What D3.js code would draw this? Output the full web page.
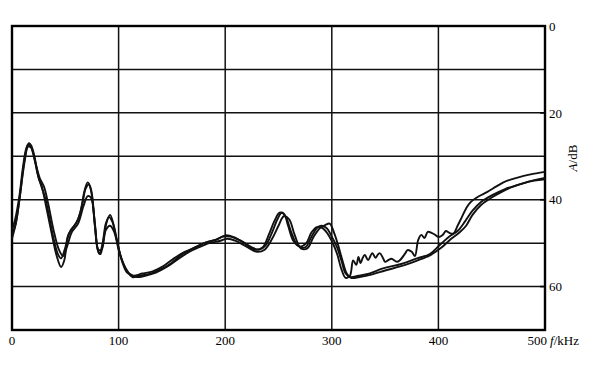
<!DOCTYPE html>
<html>
<head>
<meta charset="utf-8">
<script src="https://cdn.jsdelivr.net/npm/d3@7"></script>
<style>
  body { margin: 0; background: #fff; }
  svg { display: block; font-family: "Liberation Serif", "DejaVu Serif", serif; }
  .grid { stroke: #111; stroke-width: 1.5; }
  .frame { fill: none; stroke: #000; stroke-width: 2.4; }
  .curve { fill: none; stroke: #111; stroke-width: 1.9; stroke-linejoin: round; }
  .lbl { font-size: 13px; fill: #000; }
</style>
</head>
<body>
<div id="chart"></div>
<script>
// frequency f/kHz vs attenuation A/dB, three measurements
var width = 600,
    height = 375;

var xTicks = [0, 100, 200, 300, 400, 500];
var yTicks = [0, 20, 40, 60];
var yGrid = [0, 10, 20, 30, 40, 50, 60, 70];

var curve1 = [[0,48],[3,46],[7,40],[11,32],[14,28],[16,27],[18,27.5],[21,30],[25,35],[28,37],[32,41.5],[37,47.5],[42,53],[46,55.5],[49,54],[52,49],[55,47],[60,45.5],[64,43],[68,38],[71,36],[74,37.5],[77,44],[80,51],[82,52.5],[85,50],[88,45.5],[91,44],[94,45],[98,49],[102,53],[107,56],[113,57.8],[120,57.5],[130,57],[140,56],[150,54.5],[160,52.5],[170,51.2],[180,50],[190,49.3],[198,48.5],[205,48.5],[215,49.5],[225,51],[232,51.5],[238,50.5],[244,47.5],[249,44.5],[253,43],[257,44],[262,47.5],[268,50.5],[275,51],[281,48.5],[286,46.5],[290,46],[295,46.5],[300,48.5],[305,51],[309,54],[313,57],[317,57.8],[325,57.5],[335,57],[348,55.8],[365,54.8],[380,53.5],[392,52.5],[401,50.5],[410,48.5],[418,47.2],[425,45],[432,42.5],[440,40.5],[450,39],[462,37.6],[477,36.4],[490,35.5],[500,35]];

var curve2 = [[0,49],[4,45],[8,38],[12,31],[15,27.8],[18,28],[22,31.5],[26,35],[30,37],[34,41],[39,47],[44,51.5],[48,53],[52,50.5],[56,47.5],[62,45.5],[67,41.5],[71,39.2],[74,39.5],[78,46],[81,51.5],[84,51.5],[88,47],[92,46],[96,47.5],[100,51.5],[105,55],[110,57],[117,57.8],[125,57.5],[135,56.8],[145,55.5],[155,53.8],[165,52.2],[175,51],[185,50],[195,49.5],[202,49],[210,49.5],[220,50.8],[230,52],[237,51.5],[244,49],[250,46],[255,43.8],[260,44.5],[265,48],[271,51.2],[277,51.2],[283,48.5],[289,46.5],[294,45.8],[298,45.5],[302,47.5],[306,50.5],[310,54],[314,57],[318,58],[326,57.8],[338,57.2],[350,56.3],[365,55.3],[380,54],[392,52.8],[402,51.2],[412,49],[420,47.5],[426,46],[432,43.5],[440,41.2],[450,39.5],[465,37.5],[480,36.2],[490,35.6],[500,35.3]];

var curve3 = [[0,47],[3,44.5],[7,39],[10,33],[13,28.5],[15,27.3],[17,27.5],[20,29.5],[24,34],[27,36.5],[31,39.5],[35,44],[39,49],[43,52.5],[46,53.5],[50,51],[53,48],[57,46.5],[62,44.5],[66,41],[69,37.5],[72,36.5],[75,39],[78,46.5],[81,52],[83,52.5],[86,49],[89,45],[92,43.5],[95,45.5],[99,50],[103,54],[108,56.8],[114,57.5],[122,57],[132,56.5],[142,55.3],[152,53.5],[162,52],[172,51],[182,49.8],[192,49.2],[200,48.2],[208,48.6],[218,50],[228,51.5],[235,51],[241,48],[246,45],[251,43],[255,43.2],[259,46],[264,49.5],[270,50.8],[276,50],[281,47.5],[286,46.3],[291,46.5],[296,47.8],[300,49.5],[305,52.5],[309,56],[313,58],[317,57.5],[320,54],[323,55],[325,53.2],[327,54.6],[329,53.4],[331,52.7],[334,53.9],[338,52.3],[341,53.4],[343,52.7],[345,52.3],[348,53.4],[350,54.3],[353,53.9],[356,53.6],[361,54.3],[364,53.9],[369,52.3],[371,51.6],[375,52],[378,53],[381,49.3],[384,48.1],[387,48.8],[390,47.4],[394,47.7],[397,48.1],[400,48.6],[404,48.1],[407,47.2],[410,47.6],[414,47.8],[418,46],[422,44],[426,42],[430,40.6],[438,39.2],[446,38.2],[454,37],[461,36],[470,35.2],[480,34.5],[490,34],[500,33.6]];

var x = d3.scaleLinear().domain([0, 500]).range([12, 545]);
var y = d3.scaleLinear().domain([0, 70]).range([26, 330]);

var svg = d3.select("#chart").append("svg")
    .attr("width", width)
    .attr("height", height);

svg.append("rect")
    .attr("width", width)
    .attr("height", height)
    .attr("fill", "#fff");

// grid
svg.append("g").selectAll("line")
    .data(xTicks)
    .enter().append("line")
    .attr("class", "grid")
    .attr("x1", function(d) { return x(d); })
    .attr("x2", function(d) { return x(d); })
    .attr("y1", y(0))
    .attr("y2", y(70));

svg.append("g").selectAll("line")
    .data(yGrid)
    .enter().append("line")
    .attr("class", "grid")
    .attr("x1", x(0))
    .attr("x2", x(500))
    .attr("y1", function(d) { return y(d); })
    .attr("y2", function(d) { return y(d); });

svg.append("rect")
    .attr("class", "frame")
    .attr("x", x(0))
    .attr("y", y(0))
    .attr("width", x(500) - x(0))
    .attr("height", y(70) - y(0));

// curves
var line = d3.line()
    .x(function(d) { return x(d[0]); })
    .y(function(d) { return y(d[1]); })
    .curve(d3.curveCatmullRom.alpha(0.5));

[curve1, curve2, curve3].forEach(function(c) {
    svg.append("path")
        .datum(c)
        .attr("class", "curve")
        .attr("d", line);
});

// bottom axis labels
var xLabels = svg.append("g");
xLabels.selectAll("text")
    .data(xTicks)
    .enter().append("text")
    .attr("class", "lbl")
    .attr("x", function(d) { return d === 500 ? x(d) + 2 : x(d); })
    .attr("y", 345)
    .attr("text-anchor", function(d) { return d === 500 ? "end" : "middle"; })
    .text(function(d) { return d; });

svg.append("text")
    .attr("class", "lbl")
    .attr("x", x(500) + 5)
    .attr("y", 345)
    .html('<tspan font-style="italic">f</tspan>/kHz');

// right axis
var yAxis = d3.axisRight(y)
    .tickValues(yTicks)
    .tickSize(0)
    .tickPadding(4);

var ya = svg.append("g")
    .attr("transform", "translate(" + x(500) + ",0)")
    .call(yAxis);
ya.select(".domain").remove();
ya.selectAll("text")
    .attr("class", "lbl")
    .style("font-family", "Liberation Serif, serif")
    .style("font-size", "13px");

// small tick marks on the inside of the right edge
svg.append("g").selectAll("line")
    .data(yTicks.slice(1))
    .enter().append("line")
    .attr("x1", x(500) - 5)
    .attr("x2", x(500))
    .attr("y1", function(d) { return y(d); })
    .attr("y2", function(d) { return y(d); })
    .attr("stroke", "#000")
    .attr("stroke-width", 1.6);

svg.append("text")
    .attr("class", "lbl")
    .attr("transform", "translate(577,158) rotate(-90)")
    .attr("text-anchor", "middle")
    .html('<tspan font-style="italic">A</tspan>/dB');
</script>
</body>
</html>
